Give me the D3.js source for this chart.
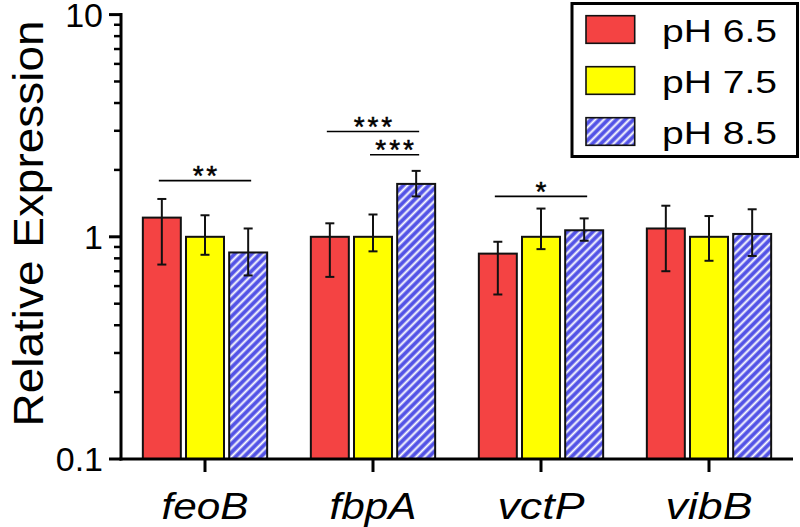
<!DOCTYPE html>
<html>
<head>
<meta charset="utf-8">
<script src="https://cdn.jsdelivr.net/npm/d3@7"></script>
<style>
  html, body { margin: 0; padding: 0; background: #fff; }
  svg { display: block; font-family: "Liberation Sans", Arial, Helvetica, sans-serif; }
</style>
</head>
<body>
<svg id="chart" width="800" height="527"></svg>
<script>
// ---- data ----
const categories = ["feoB", "fbpA", "vctP", "vibB"];
const seriesNames = ["pH 6.5", "pH 7.5", "pH 8.5"];
const ph65 = [1.22, 1.00, 0.84, 1.09];
const ph75 = [1.00, 1.00, 1.00, 1.00];
const ph85 = [0.85, 1.73, 1.07, 1.03];
const ph65Hi = [1.48, 1.15, 0.95, 1.38];
const ph65Lo = [0.75, 0.66, 0.55, 0.70];
const ph75Hi = [1.25, 1.26, 1.34, 1.24];
const ph75Lo = [0.83, 0.86, 0.88, 0.78];
const ph85Hi = [1.09, 1.98, 1.21, 1.33];
const ph85Lo = [0.67, 1.52, 0.96, 0.82];
const yTickValues = [0.1, 1, 10];
const yTickLabels = ["0.1", "1", "10"];
// significance brackets
const sigCategory = ["feoB", "fbpA", "fbpA", "vctP"];
const sigFrom = [0, 0, 1, 0];
const sigTo = [2, 2, 2, 2];
const sigLevel = [1.79, 2.98, 2.34, 1.52];
const sigLabel = ["**", "***", "***", "*"];

const seriesMeans = [ph65, ph75, ph85];
const seriesHi = [ph65Hi, ph75Hi, ph85Hi];
const seriesLo = [ph65Lo, ph75Lo, ph85Lo];

// ---- layout ----
const svg = d3.select("#chart");
const plotLeft = 121, plotRight = 793, plotBottom = 459, plotTop = 14.6;

const y = d3.scaleLog().domain([0.1, 10]).range([plotBottom, plotTop]);
const x0 = d3.scaleBand().domain(categories).range([plotLeft, plotRight])
  .paddingInner(0.26).paddingOuter(0.13);
const x1 = d3.scaleBand().domain(d3.range(seriesNames.length)).range([0, x0.bandwidth()])
  .paddingInner(0.12);

const fills = ["#F44343", "#FFFF00", "url(#stripes)"];

// pattern
const defs = svg.append("defs");
const pat = defs.append("pattern").attr("id", "stripes")
  .attr("patternUnits", "userSpaceOnUse").attr("width", 6).attr("height", 6)
  .attr("patternTransform", "rotate(45)");
pat.append("rect").attr("width", 6).attr("height", 6).attr("fill", "#5353E6");
pat.append("line").attr("x1", 1.5).attr("y1", 0).attr("x2", 1.5).attr("y2", 6)
  .attr("stroke", "#fff").attr("stroke-width", 2);

// bars
const groups = svg.append("g").selectAll("g").data(categories).join("g")
  .attr("transform", d => `translate(${x0(d)},0)`);

seriesNames.forEach((s, si) => {
  groups.append("rect")
    .attr("x", x1(si))
    .attr("y", (d, ci) => y(seriesMeans[si][ci]))
    .attr("width", x1.bandwidth())
    .attr("height", (d, ci) => plotBottom - y(seriesMeans[si][ci]))
    .attr("fill", fills[si])
    .attr("stroke", "#111").attr("stroke-width", 2);
});

// error bars
seriesNames.forEach((s, si) => {
  const cx = x1(si) + x1.bandwidth() / 2;
  const eb = groups.append("g").attr("stroke", "#111").attr("stroke-width", 2).attr("fill", "none");
  eb.append("line").attr("x1", cx).attr("x2", cx)
    .attr("y1", (d, ci) => y(seriesHi[si][ci])).attr("y2", (d, ci) => y(seriesLo[si][ci]));
  eb.append("line").attr("x1", cx - 4.5).attr("x2", cx + 4.5)
    .attr("y1", (d, ci) => y(seriesHi[si][ci])).attr("y2", (d, ci) => y(seriesHi[si][ci]));
  eb.append("line").attr("x1", cx - 4.5).attr("x2", cx + 4.5)
    .attr("y1", (d, ci) => y(seriesLo[si][ci])).attr("y2", (d, ci) => y(seriesLo[si][ci]));
});

// y axis
const yAxis = svg.append("g").attr("transform", `translate(${plotLeft},0)`);
const minorTicks = [];
[0.1, 1].forEach(dec => { for (let k = 2; k <= 9; k++) minorTicks.push(dec * k); });
yAxis.selectAll("line.minor").data(minorTicks).join("line")
  .attr("x1", -7).attr("x2", 0).attr("y1", d => y(d)).attr("y2", d => y(d))
  .attr("stroke", "#000").attr("stroke-width", 2.5);
yAxis.selectAll("line.major").data(yTickValues).join("line")
  .attr("x1", -12).attr("x2", 0).attr("y1", d => y(d)).attr("y2", d => y(d))
  .attr("stroke", "#000").attr("stroke-width", 3);
yAxis.append("line").attr("x1", 0).attr("x2", 0)
  .attr("y1", y(10) - 1.5).attr("y2", plotBottom + 1.5)
  .attr("stroke", "#000").attr("stroke-width", 3);
yAxis.selectAll("text").data(yTickValues).join("text")
  .attr("x", -18).attr("y", d => y(d)).attr("dy", "0.36em")
  .attr("text-anchor", "end").attr("font-size", 34).attr("fill", "#000")
  .text((d, i) => yTickLabels[i]);

// x axis
svg.append("line").attr("x1", plotLeft - 1.5).attr("x2", plotRight)
  .attr("y1", plotBottom).attr("y2", plotBottom)
  .attr("stroke", "#000").attr("stroke-width", 3);
svg.append("g").selectAll("line").data(categories).join("line")
  .attr("x1", d => x0(d) + x0.bandwidth() / 2).attr("x2", d => x0(d) + x0.bandwidth() / 2)
  .attr("y1", plotBottom).attr("y2", plotBottom + 13)
  .attr("stroke", "#000").attr("stroke-width", 3);
svg.append("g").selectAll("text").data(categories).join("text")
  .attr("x", d => x0(d) + x0.bandwidth() / 2).attr("y", 519)
  .attr("text-anchor", "middle").attr("font-size", 37).attr("font-style", "italic")
  .attr("textLength", 87).attr("lengthAdjust", "spacingAndGlyphs")
  .text(d => d);

// y title
svg.append("text").attr("transform", "translate(43.3,223.5) rotate(-90)")
  .attr("text-anchor", "middle").attr("font-size", 42)
  .attr("textLength", 406).attr("lengthAdjust", "spacingAndGlyphs")
  .text("Relative Expression");

// significance
const sig = svg.append("g");
sigLabel.forEach((lab, i) => {
  const gx = x0(sigCategory[i]);
  const xa = gx + x1(sigFrom[i]) + x1.bandwidth() / 2 - 3;
  const xb = gx + x1(sigTo[i]) + x1.bandwidth() / 2 + 3;
  const ly = y(sigLevel[i]);
  sig.append("line").attr("x1", xa).attr("x2", xb).attr("y1", ly).attr("y2", ly)
    .attr("stroke", "#000").attr("stroke-width", 1.6);
  const t = sig.append("text").attr("x", (xa + xb) / 2).attr("y", ly + 4.5)
    .attr("text-anchor", "middle").attr("font-size", 28)
    .attr("stroke", "#000").attr("stroke-width", 0.5)
    .text(lab);
  if (lab.length > 1) t.attr("textLength", lab.length * 14 - 3.5).attr("lengthAdjust", "spacing");
});

// legend
const legend = svg.append("g");
legend.append("rect").attr("x", 572).attr("y", 3.5).attr("width", 225.5).attr("height", 153)
  .attr("fill", "#fff").attr("stroke", "#000").attr("stroke-width", 3);
seriesNames.forEach((s, i) => {
  const cy = 29.5 + i * 51;
  legend.append("rect").attr("x", 586).attr("y", cy - 13.8).attr("width", 48.7).attr("height", 27.6)
    .attr("fill", fills[i]).attr("stroke", "#111").attr("stroke-width", 1.6);
  legend.append("text").attr("x", 662).attr("y", cy + 12.2)
    .attr("font-size", 32).attr("textLength", 115).attr("lengthAdjust", "spacingAndGlyphs")
    .text(s);
});
</script>
</body>
</html>
